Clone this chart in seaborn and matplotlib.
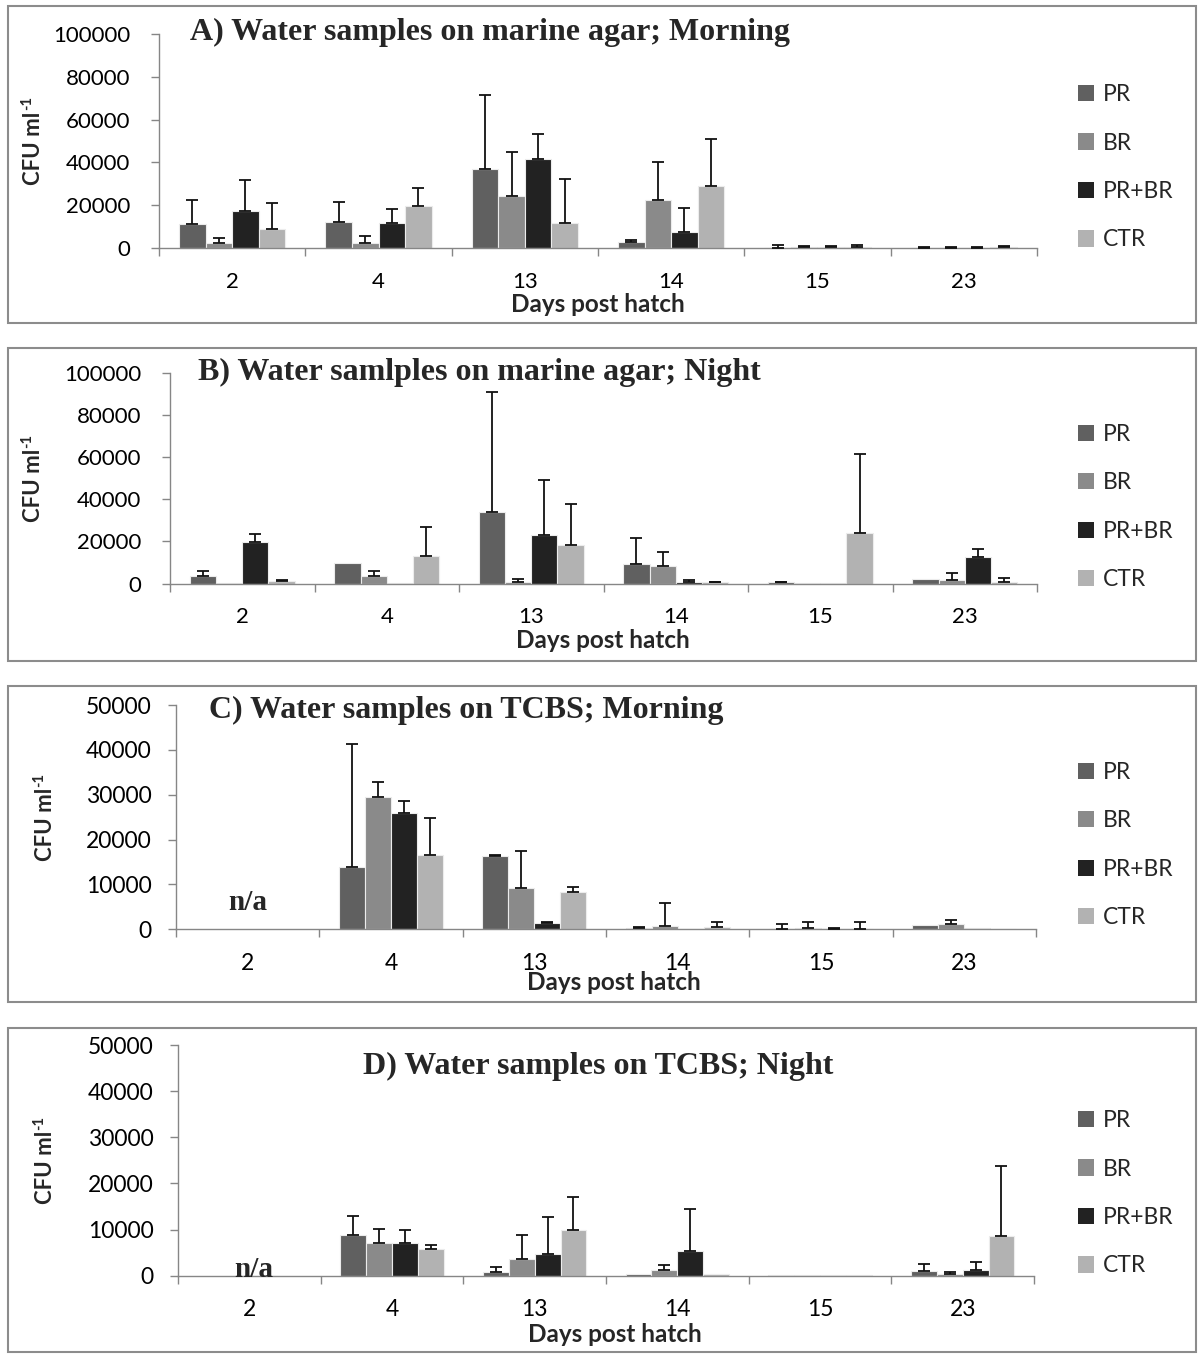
import numpy as np
import pandas as pd
import matplotlib
matplotlib.use("Agg")
import matplotlib.pyplot as plt
import seaborn as sns
from matplotlib.patches import Rectangle, Patch
from matplotlib.ticker import FixedLocator

# ---- data -------------------------------------------------------------
days = ["2", "4", "13", "14", "15", "23"]
treatments = ["PR", "BR", "PR+BR", "CTR"]
palette = ["#606060", "#8a8a8a", "#222222", "#b2b2b2"]
nan = np.nan

# A) marine agar, morning: means and upper ends of the error bars
a_pr = [11300, 12200, 37000, 2800, 150, 150]
a_br = [2300, 2300, 24200, 22500, 600, 150]
a_prbr = [17400, 11800, 41500, 7300, 600, 150]
a_ctr = [9100, 19800, 11800, 29100, 300, 300]
a_pr_top = [22300, 21500, 71500, 3600, 1400, 350]
a_br_top = [4800, 5400, 45000, 40200, 750, 350]
a_prbr_top = [31800, 18300, 53300, 18800, 750, 350]
a_ctr_top = [20900, 27900, 32400, 51000, 1240, 930]

# B) marine agar, night
b_pr = [3650, 9700, 33800, 9050, 800, 2050]
b_br = [150, 3500, 800, 8100, 300, 1900]
b_prbr = [19700, 150, 22900, 650, 150, 12400]
b_ctr = [1100, 13000, 18100, 500, 24000, 950]
b_pr_top = [6000, nan, 91100, 21400, 950, nan]
b_br_top = [nan, 6000, 2200, 15100, nan, 5100]
b_prbr_top = [23500, nan, 49000, 1600, nan, 16500]
b_ctr_top = [1900, 27000, 37600, 950, 61400, 2400]

# C) TCBS, morning (day 2 not available)
c_pr = [nan, 13800, 16300, 370, 50, 900]
c_br = [nan, 29600, 9300, 670, 370, 1200]
c_prbr = [nan, 25950, 1400, 75, 150, 220]
c_ctr = [nan, 16600, 8300, 520, 50, 75]
c_pr_top = [nan, 41200, 16650, 520, 1200, nan]
c_br_top = [nan, 32800, 17500, 5950, 1560, 2100]
c_prbr_top = [nan, 28550, 1700, nan, 300, nan]
c_ctr_top = [nan, 24750, 9500, 1560, 1640, nan]

# D) TCBS, night (day 2 not available)
d_pr = [nan, 8900, 800, 290, 60, 1080]
d_br = [nan, 7000, 3600, 1300, 60, 360]
d_prbr = [nan, 7150, 4700, 5350, 60, 1300]
d_ctr = [nan, 5800, 9950, 290, 60, 8650]
d_pr_top = [nan, 13000, 1950, nan, nan, 2600]
d_br_top = [nan, 10100, 8800, 2240, nan, 720]
d_prbr_top = [nan, 9800, 12800, 14500, nan, 2960]
d_ctr_top = [nan, 6650, 17050, nan, nan, 23700]

titles = [
    "A) Water samples on marine agar; Morning",
    "B) Water samlples on marine agar; Night",
    "C) Water samples on TCBS; Morning",
    "D) Water samples on TCBS; Night",
]
y_ticks_big = [0, 20000, 40000, 60000, 80000, 100000]
y_ticks_small = [0, 10000, 20000, 30000, 40000, 50000]

# ---- layout (pixel units on a 1198 x 1354 canvas) ---------------------
W, H = 1198, 1354
sns.set_theme(style="white")
plt.rcParams["font.family"] = ["Lato", "DejaVu Sans"]
fig = plt.figure(figsize=(W / 100, H / 100), dpi=100)
fig.patch.set_facecolor("white")
renderer = fig.canvas.get_renderer()

SPINE = "#868686"
SERIF = ["Liberation Serif", "DejaVu Serif"]

panels = [
    dict(series=[a_pr, a_br, a_prbr, a_ctr],
         tops=[a_pr_top, a_br_top, a_prbr_top, a_ctr_top],
         ticks=y_ticks_big, ax_px=(159, 34, 1037, 248), box=(8, 6, 1196, 323),
         title_xy=(490, 32), ylab_x=33, xlab=(598, 304), leg_top=84, pad=15, fs=16, na=None),
    dict(series=[b_pr, b_br, b_prbr, b_ctr],
         tops=[b_pr_top, b_br_top, b_prbr_top, b_ctr_top],
         ticks=y_ticks_big, ax_px=(170, 373, 1037, 583.5), box=(8, 348, 1196, 661),
         title_xy=(479, 372), ylab_x=33, xlab=(603, 641), leg_top=424, pad=15, fs=16, na=None),
    dict(series=[c_pr, c_br, c_prbr, c_ctr],
         tops=[c_pr_top, c_br_top, c_prbr_top, c_ctr_top],
         ticks=y_ticks_small, ax_px=(176, 705, 1036, 929.3), box=(8, 686, 1196, 1002),
         title_xy=(466, 710), ylab_x=45, xlab=(614, 983), leg_top=762, pad=12, fs=16.5, na=(0.0, 5900)),
    dict(series=[d_pr, d_br, d_prbr, d_ctr],
         tops=[d_pr_top, d_br_top, d_prbr_top, d_ctr_top],
         ticks=y_ticks_small, ax_px=(178, 1045, 1034, 1275.7), box=(8, 1028, 1196, 1352),
         title_xy=(598, 1066), ylab_x=45, xlab=(615, 1335), leg_top=1110, pad=12, fs=16.5, na=(0.03, 1300)),
]

for i, p in enumerate(panels):
    # frame around the panel
    bx0, by0, bx1, by1 = p["box"]
    fig.patches.append(Rectangle((bx0 / W, 1 - by1 / H), (bx1 - bx0) / W, (by1 - by0) / H,
                                 transform=fig.transFigure, fill=False,
                                 edgecolor="#8c8c8c", linewidth=1.5, zorder=0))

    x0, ytop, x1, ybot = p["ax_px"]
    ax = fig.add_axes([x0 / W, 1 - ybot / H, (x1 - x0) / W, (ybot - ytop) / H])
    ax.set_facecolor("none")

    rows = []
    for t, vals in zip(treatments, p["series"]):
        for d, v in zip(days, vals):
            rows.append({"day": d, "treatment": t, "cfu": 0.0 if np.isnan(v) else v})
    df = pd.DataFrame(rows)

    sns.barplot(data=df, x="day", y="cfu", hue="treatment", order=days,
                hue_order=treatments, palette=palette, saturation=1, width=0.725,
                errorbar=None, edgecolor="#ececec", linewidth=0.8, legend=False,
                ax=ax, zorder=2)

    # one-sided (upper) error bars
    for cont, vals, tops in zip(ax.containers, p["series"], p["tops"]):
        for bar, v, top in zip(cont, vals, tops):
            if np.isnan(v) or v == 0:
                bar.set_linewidth(0)
            if np.isnan(v) or np.isnan(top):
                continue
            xc = bar.get_x() + bar.get_width() / 2
            ax.errorbar([xc], [v], yerr=[[0], [top - v]], fmt="none",
                        ecolor="#111111", elinewidth=1.3, capsize=4.5,
                        capthick=1.3, zorder=3)

    ymax = p["ticks"][-1]
    ax.set_ylim(0, ymax)
    ax.set_xlim(-0.5, 5.5)
    ax.set_yticks(p["ticks"])
    ax.set_yticklabels([str(v) for v in p["ticks"]])
    ax.xaxis.set_minor_locator(FixedLocator(np.arange(-0.5, 6.0, 1.0)))
    ax.set_xlabel("")
    ax.set_ylabel("")
    for s in ["top", "right"]:
        ax.spines[s].set_visible(False)
    for s in ["left", "bottom"]:
        ax.spines[s].set_color(SPINE)
        ax.spines[s].set_linewidth(1.0)
    ax.tick_params(axis="y", which="major", left=True, length=5.5, width=1.0,
                   color=SPINE, pad=p["pad"], labelsize=p["fs"], labelcolor="black")
    ax.tick_params(axis="x", which="major", bottom=True, length=0, pad=17,
                   labelsize=p["fs"], labelcolor="black")
    ax.tick_params(axis="x", which="minor", bottom=True, length=6, width=1.0, color=SPINE)

    if p["na"] is not None:
        ax.text(p["na"][0], p["na"][1], "n/a", ha="center", va="center",
                fontsize=21, fontweight="bold", family=SERIF)

    # title, axis labels, legend
    tx, ty = p["title_xy"]
    fig.text(tx / W, 1 - ty / H, titles[i], ha="center", va="center", fontsize=23,
             fontweight="bold", family=SERIF)
    fig.text(p["xlab"][0] / W, 1 - p["xlab"][1] / H, "Days post hatch",
             ha="center", va="center", fontsize=17.5, fontweight="bold")

    # rotated y label with a small raised "-1"
    yc = (ytop + ybot) / 2
    main = fig.text(p["ylab_x"] / W, 1 - (yc + 7) / H, "CFU ml", ha="center",
                    va="center", rotation=90, fontsize=16, fontweight="bold")
    ext = main.get_window_extent(renderer)
    fig.text((p["ylab_x"] - 6) / W, (ext.y1 + 1) / H, "-1", ha="center",
             va="bottom", rotation=90, fontsize=10.5, fontweight="bold")

    handles = [Patch(facecolor=c, edgecolor="none") for c in palette]
    ax.legend(handles, treatments, loc="upper left",
              bbox_to_anchor=(1078 / W, 1 - p["leg_top"] / H),
              bbox_transform=fig.transFigure, frameon=False, fontsize=16.5,
              handlelength=0.7, handleheight=0.7, handletextpad=0.4,
              labelspacing=1.2, borderpad=0, borderaxespad=0)

fig.savefig("out.png", dpi=100, facecolor="white")
